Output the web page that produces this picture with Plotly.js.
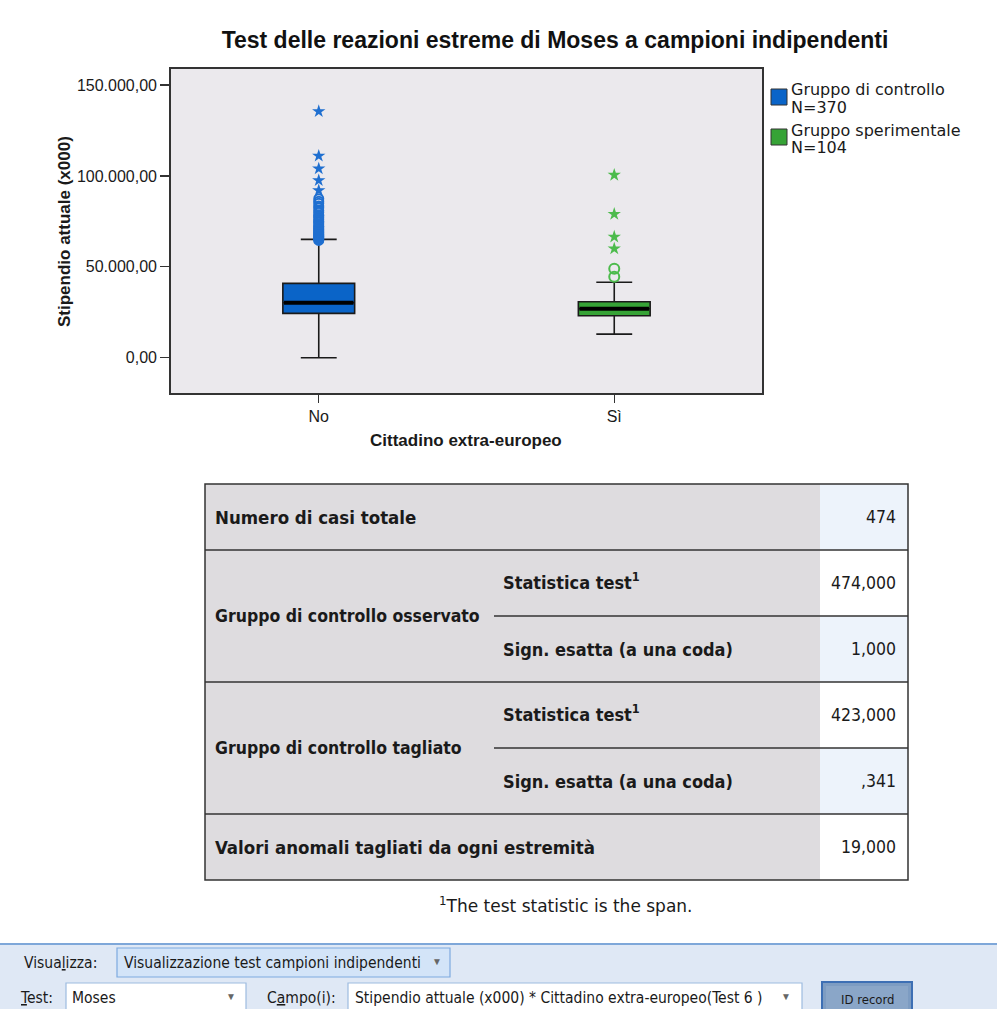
<!DOCTYPE html>
<html>
<head>
<meta charset="utf-8">
<script src="https://cdn.plot.ly/plotly-3.0.1.min.js"></script>
<style>
html,body{margin:0;padding:0;background:#ffffff;}
#chart{width:997px;height:1009px;}
</style>
</head>
<body>
<div id="chart"></div>
<script>
// ---------------- DATA ----------------
const categories = ['No', 'Sì'];
const q1Values = [24400, 23100];
const medianValues = [30250, 26950];
const q3Values = [40900, 30800];
const lowerWhiskers = [0, 13000];
const upperWhiskers = [65100, 41500];
const circleOutliersNo = [64500, 65000, 65500, 66000, 66500, 67000, 67500, 68000, 68750, 69250, 70000, 70500, 71250, 72000, 72500, 73500, 74500, 75000, 76000, 77000, 78000, 78500, 80000, 81000, 82500, 83500, 85000, 86000, 87500];
const starOutliersNo = [92000, 97500, 104000, 111000, 135500];
const circleOutliersSi = [44500, 49000];
const starOutliersSi = [60000, 66500, 79000, 100500];
const yTickValues = [0, 50000, 100000, 150000];
const yTickLabels = ['0,00', '50.000,00', '100.000,00', '150.000,00'];
const legendNames = ['Gruppo di controllo', 'Gruppo sperimentale'];
const legendCounts = [370, 104];

const tableLabels = ['Numero di casi totale', 'Gruppo di controllo osservato', 'Gruppo di controllo tagliato', 'Valori anomali tagliati da ogni estremità'];
const tableSubLabels = ['Statistica test<sup>1</sup>', 'Sign. esatta (a una coda)'];
const tableValues = ['474', '474,000', '1,000', '423,000', ',341', '19,000'];
const footnote = '<sup>1</sup>The test statistic is the span.';

const chartTitle = 'Test delle reazioni estreme di Moses a campioni indipendenti';
const xTitle = 'Cittadino extra-europeo';
const yTitle = 'Stipendio attuale (x000)';

const uiTexts = {
  view: 'Visua<u>l</u>izza:',
  viewValue: 'Visualizzazione test campioni indipendenti',
  test: '<u>T</u>est:',
  testValue: 'Moses',
  field: 'C<u>a</u>mpo(i):',
  fieldValue: 'Stipendio attuale (x000) * Cittadino extra-europeo(Test 6 )',
  button: 'ID record'
};

// ---------------- STYLE / LAYOUT ----------------
const W = 997, H = 1009;
const px = x => x / W;
const py = y => 1 - y / H;
const boxFill = ['#0a64c8', '#36a336'];
const markColor = ['#1f6fd0', '#4cbb4c'];
const BOXW = 0.243;
const SANS = 'Liberation Sans, Arial, sans-serif';
const WIDE = 'DejaVu Sans, Verdana, sans-serif';
const NARROW = 'DejaVu Sans Condensed, Liberation Sans Narrow, Arial Narrow, Liberation Sans, sans-serif';

const traces = [];
categories.forEach((c, i) => {
  traces.push({
    type: 'box', x: [i], q1: [q1Values[i]], median: [medianValues[i]], q3: [q3Values[i]],
    lowerfence: [lowerWhiskers[i]], upperfence: [upperWhiskers[i]],
    width: BOXW, whiskerwidth: 0.5, fillcolor: boxFill[i],
    line: {color: '#1a1a1a', width: 1.6}, boxpoints: false, showlegend: false, hoverinfo: 'skip'
  });
  traces.push({
    type: 'scatter', mode: 'lines', x: [i - BOXW / 2 + 0.004, i + BOXW / 2 - 0.004],
    y: [medianValues[i], medianValues[i]], line: {color: '#000', width: 4},
    showlegend: false, hoverinfo: 'skip'
  });
});
const outlierSets = [
  {vals: circleOutliersNo, i: 0, sym: 'circle-open', size: 9},
  {vals: starOutliersNo, i: 0, sym: 'star', size: 10},
  {vals: circleOutliersSi, i: 1, sym: 'circle-open', size: 10},
  {vals: starOutliersSi, i: 1, sym: 'star', size: 10}
];
outlierSets.forEach(s => {
  traces.push({
    type: 'scatter', mode: 'markers', x: s.vals.map(() => s.i), y: s.vals,
    marker: {symbol: s.sym, size: s.size, color: markColor[s.i], line: {color: markColor[s.i], width: s.sym === 'star' ? 0 : 2}},
    showlegend: false, hoverinfo: 'skip'
  });
});

const shapes = [];
const annotations = [];
function rect(x0, y0, x1, y1, fill, lineColor, lw) {
  shapes.push({type: 'rect', xref: 'paper', yref: 'paper', x0: px(x0), x1: px(x1), y0: py(y1), y1: py(y0),
    fillcolor: fill, line: {color: lineColor || 'rgba(0,0,0,0)', width: lw || 0}, layer: 'above'});
}
function line(x0, y0, x1, y1, color, lw) {
  shapes.push({type: 'line', xref: 'paper', yref: 'paper', x0: px(x0), x1: px(x1), y0: py(y0), y1: py(y1),
    line: {color: color, width: lw}, layer: 'above'});
}
function text(t, x, y, opts) {
  opts = opts || {};
  annotations.push({text: t, xref: 'paper', yref: 'paper', x: px(x), y: py(y), showarrow: false,
    xanchor: opts.xa || 'left', yanchor: 'middle', textangle: opts.angle || 0,
    font: {family: opts.family || SANS, size: opts.size || 15, color: opts.color || '#1a1a1a'}});
}

// axis titles
text('<b>' + xTitle + '</b>', 466, 441, {xa: 'center', size: 17});
text('<b>' + yTitle + '</b>', 65, 232, {xa: 'center', size: 17, angle: -90});

// legend
const legY = [97, 137];
legendNames.forEach((n, i) => {
  rect(771, legY[i] - 8, 787, legY[i] + 8, boxFill[i], '#333', 1);
  text(n, 789, legY[i] - 7, {size: 16, family: WIDE});
  text('N=' + legendCounts[i], 789, legY[i] + 10, {size: 16, family: WIDE});
});

// table
const tL = 205, tR = 908, tV = 820, tTop = 484, rowH = 66;
const rows = [tTop, tTop + rowH, tTop + 2 * rowH, tTop + 3 * rowH, tTop + 4 * rowH, tTop + 5 * rowH, tTop + 6 * rowH];
rect(tL, tTop, tV, rows[6], '#dedcdf');
const valueBg = ['#edf3fb', '#ffffff', '#edf3fb', '#ffffff', '#edf3fb', '#ffffff'];
for (let r = 0; r < 6; r++) rect(tV, rows[r], tR, rows[r + 1], valueBg[r]);
rect(tL, tTop, tR, rows[6], 'rgba(0,0,0,0)', '#333', 1.5);
[rows[1], rows[3], rows[5]].forEach(y => line(tL, y, tR, y, '#333', 1.5));
[rows[2], rows[4]].forEach(y => line(494, y, tR, y, '#333', 1.5));
const tSize = 17.5;
text('<b>' + tableLabels[0] + '</b>', 213, (rows[0] + rows[1]) / 2, {size: 18.5, family: NARROW});
text('<b>' + tableLabels[1] + '</b>', 213, rows[2], {size: tSize, family: NARROW});
text('<b>' + tableLabels[2] + '</b>', 213, rows[4], {size: tSize, family: NARROW});
text('<b>' + tableLabels[3] + '</b>', 213, (rows[5] + rows[6]) / 2, {size: 18.5, family: NARROW});
[1, 3].forEach(r => {
  text('<b>' + tableSubLabels[0] + '</b>', 501, (rows[r] + rows[r + 1]) / 2 - 2, {size: 18, family: NARROW});
  text('<b>' + tableSubLabels[1] + '</b>', 501, (rows[r + 1] + rows[r + 2]) / 2, {size: 18, family: NARROW});
});
tableValues.forEach((v, r) => text(v, 898, (rows[r] + rows[r + 1]) / 2, {xa: 'right', size: 17.5, family: NARROW}));
text(footnote, 566, 905, {xa: 'center', size: 17, family: WIDE});

// bottom UI bar
rect(0, 944, W, H, '#dfe8f5');
line(0, 944, W, 944, '#7ea7d9', 2);
const UI = NARROW;
text(uiTexts.view, 22, 963, {size: 15.5, family: UI});
rect(117, 948, 450, 977, '#d3e4f8', '#7eaadf', 1.2);
text(uiTexts.viewValue, 122, 963, {size: 15.5, family: UI});
text('▼', 437, 961, {xa: 'center', size: 10, color: '#666'});
text(uiTexts.test, 18, 998, {size: 15.5, family: UI});
rect(66, 983, 246, H + 2, '#ffffff', '#9dbbe0', 1.2);
text(uiTexts.testValue, 70, 998, {size: 15.5, family: UI});
text('▼', 231, 996, {xa: 'center', size: 10, color: '#666'});
text(uiTexts.field, 265, 998, {size: 15.5, family: UI});
rect(348, 983, 802, H + 2, '#ffffff', '#9dbbe0', 1.2);
text(uiTexts.fieldValue, 353, 998, {size: 15.5, family: UI});
text('▼', 786, 996, {xa: 'center', size: 10, color: '#666'});
rect(822, 982, 912, H + 2, '#7d9cc2', '#3d6fb4', 2);
rect(826, 986, 908, H + 2, '#8aa6c8');
text(uiTexts.button, 867, 999, {xa: 'center', size: 13, family: UI});

const layout = {
  width: W, height: H,
  margin: {l: 0, r: 0, t: 0, b: 0},
  paper_bgcolor: '#ffffff',
  plot_bgcolor: '#ebe9ed',
  title: {text: '<b>' + chartTitle + '</b>', x: px(555), xanchor: 'center', xref: 'paper', y: py(40), yanchor: 'middle', yref: 'paper',
    font: {family: SANS, size: 23, color: '#111'}},
  xaxis: {
    domain: [px(171), px(762)], range: [-0.5, 1.5], tickvals: categories.map((c, i) => i), ticktext: categories,
    ticks: 'outside', ticklen: 8, tickcolor: '#333', tickwidth: 1.2, showgrid: false, zeroline: false,
    showline: true, linecolor: '#333', linewidth: 1.8, mirror: true,
    tickfont: {family: SANS, size: 16, color: '#1a1a1a'}, fixedrange: true
  },
  yaxis: {
    domain: [py(393), py(69)], range: [-19400, 158800], tickvals: yTickValues, ticktext: yTickLabels,
    ticks: 'outside', ticklen: 9, tickcolor: '#333', tickwidth: 1.2, showgrid: false, zeroline: false,
    showline: true, linecolor: '#333', linewidth: 1.8, mirror: true,
    tickfont: {family: SANS, size: 16, color: '#1a1a1a'}, fixedrange: true
  },
  showlegend: false,
  shapes: shapes,
  annotations: annotations
};
Plotly.newPlot('chart', traces, layout, {displayModeBar: false, staticPlot: true});
</script>
</body>
</html>
